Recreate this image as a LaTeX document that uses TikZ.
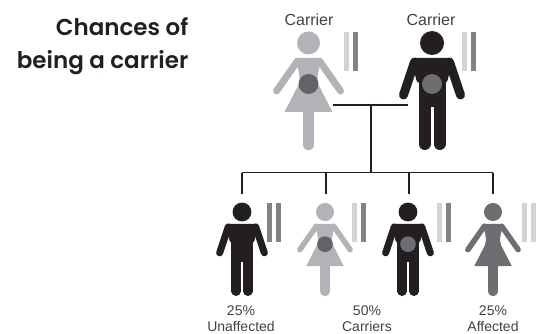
\documentclass[tikz,border=0pt]{standalone}
\usepackage{fontspec}
\setmainfont{Liberation Sans}
\newfontfamily\titlefont{Poppins SemiBold}
\definecolor{inkblack}{HTML}{231F20}
\definecolor{palegrey}{HTML}{B1B3B6}
\definecolor{midgrey}{HTML}{6D6E71}
\definecolor{barlight}{HTML}{D1D3D4}
\definecolor{bardark}{HTML}{808285}
\tikzset{
  pedigree/.style={draw=inkblack,line width=1.1pt},
  caption/.style={inner sep=0pt,align=center,font=\fontsize{14}{15.5}\selectfont,text=inkblack!85},
  pics/malefig/.style n args={3}{code={
    \fill[#1](0,0)circle(12);
    \fill[#1,rounded corners=3](-21,15)--(21,15)--(15,40)--(-15,40)--cycle;
    \fill[#1](-13.5,30)rectangle(13.5,64);
    \draw[#1,line cap=round,line width=#3*9pt](-17.5,19)--(-28.5,52);
    \draw[#1,line cap=round,line width=#3*9pt](17.5,19)--(28.5,52);
    \draw[#1,line cap=round,line width=#3*12pt](-7.5,60)--(-7.5,101);
    \draw[#1,line cap=round,line width=#3*12pt](7.5,60)--(7.5,101);
    \fill[#2](0,41)circle(10);
  }},
  pics/femalefig/.style n args={3}{code={
    \fill[#1](0,0)circle(11.5);
    \fill[#1,rounded corners=3](-13,15)--(13,15)--(9,32)--(9,40)--(-9,40)--(-9,32)--cycle;
    \fill[#1](-8,38)--(8,38)--(24,69)--(-24,69)--cycle;
    \draw[#1,line cap=round,line width=#3*7pt](-11,18)--(-32,48);
    \draw[#1,line cap=round,line width=#3*7pt](11,18)--(32,48);
    \draw[#1,line cap=round,line width=#3*11.5pt](0,65)--(0,101.5);
    \fill[#2](0,41)circle(10);
  }},
  pics/genebars/.style n args={2}{code={
    \fill[#1](0,0)rectangle(5,39.5);
    \fill[#2](9,0)rectangle(14,39.5);
  }}
}
\begin{document}
\begin{tikzpicture}[x=1pt,y=-1pt]
\useasboundingbox(0,0)rectangle(538,334);
\node[inner sep=0pt,align=right,anchor=east,text=inkblack,font=\titlefont\fontsize{23}{32.5}\selectfont](title)at(188.5,46){Chances of\\being a carrier};
% parents
\pic[scale=1]at(308.5,43){femalefig={palegrey}{midgrey!90!black}{1}};
\pic[scale=1]at(432,43){malefig={inkblack}{midgrey}{1}};
\pic at(343.5,32){genebars={barlight}{bardark}};
\pic at(462,32){genebars={barlight}{bardark}};
\node[caption,font=\fontsize{16}{16}\selectfont](dadlabel)at(431,20){Carrier};
\node[caption,font=\fontsize{16}{16}\selectfont](momlabel)at(309,20){Carrier};
% pedigree lines
\coordinate(momend)at(333,105);
\coordinate(dadend)at(408,105);
\coordinate(joint)at(371,105);
\coordinate(stem)at(371,172.7);
\coordinate(bra)at(242,172.7);
\coordinate(brb)at(326,172.7);
\coordinate(brc)at(409,172.7);
\coordinate(brd)at(493,172.7);
\coordinate(kida)at(242,194);
\coordinate(kidb)at(326,194);
\coordinate(kidc)at(409,194);
\coordinate(kidd)at(493,194);
\draw[pedigree](momend)--(dadend);
\draw[pedigree](joint)--(stem);
\draw[pedigree](bra)--(brd);
\draw[pedigree](bra)--(kida);
\draw[pedigree](brb)--(kidb);
\draw[pedigree](brc)--(kidc);
\draw[pedigree](brd)--(kidd);
% children
\pic[scale=.785]at(242,212){malefig={inkblack}{inkblack}{.785}};
\pic[scale=.785]at(325,212){femalefig={palegrey}{midgrey!90!black}{.785}};
\pic[scale=.785]at(408,212){malefig={inkblack}{midgrey}{.785}};
\pic[scale=.785]at(493,212){femalefig={midgrey}{midgrey}{.785}};
\pic at(267,202.5){genebars={bardark}{bardark}};
\pic at(352,202.5){genebars={barlight}{bardark}};
\pic at(437,202.5){genebars={barlight}{bardark}};
\pic at(522,202.5){genebars={barlight}{barlight}};
\node[caption](unaffected)at(241,318.5){25\%\\Unaffected};
\node[caption](carriers)at(367,318.5){50\%\\Carriers};
\node[caption](affected)at(493,318.5){25\%\\Affected};
\end{tikzpicture}
\end{document}
